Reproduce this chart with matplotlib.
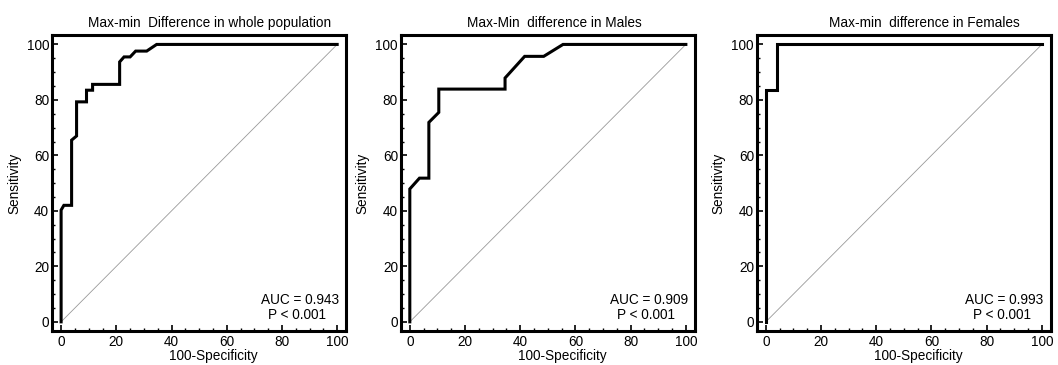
#!/usr/bin/env python3
"""
ROC curves for the max-min difference: whole population, males, females.
Saves out.png (about 1058x365 px).
"""

import matplotlib
matplotlib.use("Agg")
import matplotlib.pyplot as plt
from matplotlib.ticker import MultipleLocator

# ROC step curves (x = 100-Specificity, y = Sensitivity)
whole_x = [0, 0, 1, 3.8, 3.8, 5.6, 5.6, 9.2, 9.2, 11.4, 11.4, 21.2, 21.2, 22.8, 25, 27, 31, 34.6, 100]
whole_y = [0, 40.3, 42, 42, 65.5, 67, 79.3, 79.3, 83.5, 83.5, 85.6, 85.6, 93.7, 95.5, 95.5, 97.6, 97.6, 100, 100]

males_x = [0, 0, 3.5, 6.9, 6.9, 10.5, 10.5, 34.5, 34.5, 41.6, 48.5, 55.5, 100]
males_y = [0, 47.9, 51.8, 51.8, 71.9, 75.5, 83.9, 83.9, 87.9, 95.7, 95.7, 100, 100]

females_x = [0, 0, 4, 4, 100]
females_y = [0, 83.5, 83.5, 100, 100]

titles = [
    "Max-min  Difference in whole population",
    "Max-Min  difference in Males",
    "Max-min  difference in Females",
]
auc_values = ["0.943", "0.909", "0.993"]
p_labels = ["P < 0.001", "P < 0.001", "P < 0.001"]

FONT = ["Liberation Sans", "DejaVu Sans"]
FS = 9.8


def draw_panel(ax, xs, ys, title, auc, plabel, title_x):
    # chance line
    ax.plot([0, 100], [0, 100], color="#999999", lw=0.6, zorder=1)
    # ROC curve
    ax.plot(xs, ys, color="black", lw=2.2, solid_joinstyle="miter", zorder=3)

    ax.set_xlim(-3.3, 103.2)
    ax.set_ylim(-3.3, 103.4)
    ax.xaxis.set_major_locator(MultipleLocator(20))
    ax.yaxis.set_major_locator(MultipleLocator(20))
    ax.xaxis.set_minor_locator(MultipleLocator(5))
    ax.yaxis.set_minor_locator(MultipleLocator(5))
    ax.tick_params(which="both", direction="in", top=False, right=False,
                   labelsize=FS, colors="black")
    ax.tick_params(which="major", length=4.5, width=1.2)
    ax.tick_params(which="minor", length=2.5, width=1.0)
    ax.tick_params(axis="x", pad=3)
    ax.tick_params(axis="y", pad=2)
    for s in ax.spines.values():
        s.set_linewidth(2.2)

    ax.set_title(title, fontsize=FS, x=title_x, pad=5.5)
    ax.set_xlabel("100-Specificity", fontsize=FS)
    ax.xaxis.set_label_coords(0.55, -0.062)
    ax.set_ylabel("Sensitivity", fontsize=FS)
    ax.yaxis.set_label_coords(-0.105, 0.5)

    ax.text(86.5, 6.4, f"AUC = {auc}", fontsize=FS, ha="center", va="baseline")
    ax.text(85.5, 1.2, plabel, fontsize=FS, ha="center", va="baseline")


def main():
    plt.rcParams["font.family"] = FONT
    fig = plt.figure(figsize=(10.58, 3.65), dpi=100)

    lefts = [52 / 1058, 400.7 / 1058, 756.7 / 1058]
    title_xs = [0.536, 0.524, 0.572]
    curves = [(whole_x, whole_y), (males_x, males_y), (females_x, females_y)]

    for i, (xs, ys) in enumerate(curves):
        ax = fig.add_axes([lefts[i], 34 / 365, 294 / 1058, 296 / 365])
        draw_panel(ax, xs, ys, titles[i], auc_values[i], p_labels[i], title_xs[i])

    fig.savefig("out.png", dpi=100)
    plt.close(fig)


if __name__ == "__main__":
    main()
